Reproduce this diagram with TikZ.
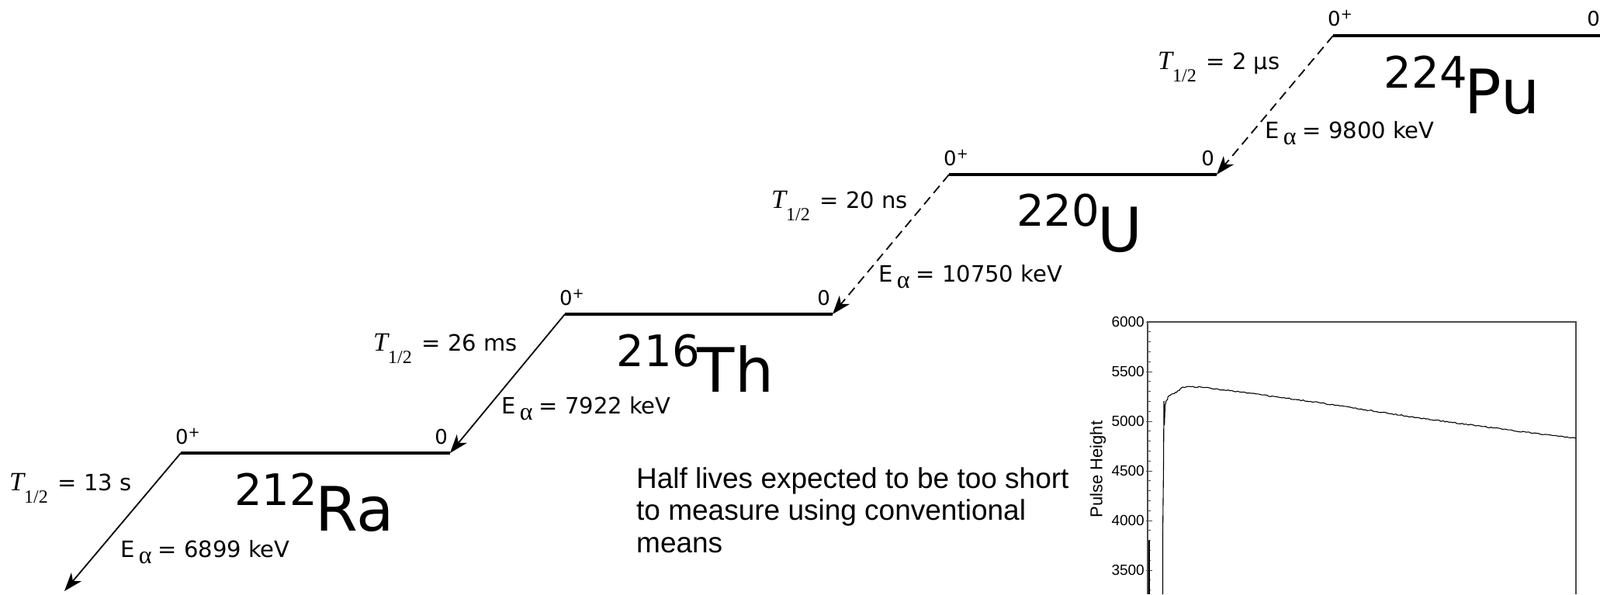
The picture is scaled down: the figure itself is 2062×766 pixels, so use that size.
\documentclass[tikz,border=0pt]{standalone}
\usepackage{fontspec}
\setmainfont{DejaVu Sans}
\newfontfamily\serif{Liberation Serif}
\newfontfamily\arial{Liberation Sans}
\usetikzlibrary{arrows.meta,decorations.pathmorphing}
\newcommand{\nuc}[2]{\fontsize{56}{56}\selectfont\raisebox{33pt}{#1}\kern-3pt\fontsize{79}{79}\selectfont #2}
\newcommand{\zp}{0\raisebox{9pt}{\fontsize{18}{18}\selectfont +}}
\newcommand{\thalf}[1]{{\serif\itshape\fontsize{34}{34}\selectfont T}\raisebox{-16pt}{\serif\fontsize{24}{24}\selectfont 1/2}\hspace{13pt}= #1}
\newcommand{\ealpha}[1]{E\raisebox{-8pt}{\serif\fontsize{32}{32}\selectfont\,α}\hspace{8pt}= #1}
\begin{document}
\begin{tikzpicture}[x=1pt,y=-1pt,
  level/.style={line width=3.6pt},
  decay/.style={line width=1.8pt,-{Stealth[length=24pt,width=17pt,inset=7pt]}},
  fast/.style={decay,dash pattern=on 12pt off 7pt},
  spin/.style={inner sep=0,font=\fontsize{26}{26}\selectfont},
  lab/.style={inner sep=0,anchor=base west,font=\fontsize{29}{29}\selectfont},
  nucl/.style={inner sep=0,anchor=base},
  frame/.style={line width=1.4pt,black!70},
  trace/.style={line width=1.1pt,black},
  tick/.style={line width=1pt,black!70},
  ticklab/.style={inner sep=0,anchor=east,font=\arial\fontsize{19}{19}\selectfont}]
\useasboundingbox (0,0) rectangle (2062,766);
% level end points
\coordinate (RaL) at (233,584);  \coordinate (RaR) at (580,584);
\coordinate (ThL) at (728,405);  \coordinate (ThR) at (1073,405);
\coordinate (UL)  at (1223,225); \coordinate (UR)  at (1568,225);
\coordinate (PuL) at (1718,46);  \coordinate (PuR) at (2065,46);
\coordinate (RaOut) at (83,762);
% levels
\draw[level] (RaL) -- (RaR);
\draw[level] (ThL) -- (ThR);
\draw[level] (UL) -- (UR);
\draw[level] (PuL) -- (PuR);
% decays
\draw[decay] (RaL) -- (RaOut);
\draw[decay] (ThL) -- (RaR);
\draw[fast] (UL) -- (ThR);
\draw[fast] (PuL) -- (UR);
% spins
\node[spin,anchor=base west] (RaS1) at (226,572) {\zp};
\node[spin,anchor=base east] (RaS2) at (577,572) {0};
\node[spin,anchor=base west] (ThS1) at (721,393) {\zp};
\node[spin,anchor=base east] (ThS2) at (1070,393) {0};
\node[spin,anchor=base west] (US1) at (1216,213) {\zp};
\node[spin,anchor=base east] (US2) at (1565,213) {0};
\node[spin,anchor=base west] (PuS1) at (1711,33) {\zp};
\node[spin,anchor=base east] (PuS2) at (2062,33) {0};
% nuclei
\node[nucl] (Ra) at (405,684) {\nuc{212}{Ra}};
\node[nucl] (Th) at (896,505) {\nuc{216}{Th}};
\node[nucl] (U)  at (1391,324) {\nuc{220}{U}};
\node[nucl] (Pu) at (1884,146) {\nuc{224}{Pu}};
% half lives
\node[lab] (RaT) at (12,632) {\thalf{13 s}};
\node[lab] (ThT) at (481,452) {\thalf{26 ms}};
\node[lab] (UT)  at (994,268) {\thalf{20 ns}};
\node[lab] (PuT) at (1492,89) {\thalf{2 μs}};
% alpha energies
\node[lab] (RaE) at (155,718) {\ealpha{6899 keV}};
\node[lab] (ThE) at (646,533) {\ealpha{7922 keV}};
\node[lab] (UE)  at (1132,363) {\ealpha{10750 keV}};
\node[lab] (PuE) at (1630,178) {\ealpha{9800 keV}};
% note (base anchor = baseline of the last line)
\node[inner sep=0,anchor=base west,align=left,font=\arial\fontsize{37}{41.5}\selectfont] (note) at (820,712)
  {Half lives expected to be too short\\to measure using conventional\\means};
% plot
\draw[frame] (1479,766) -- (1479,415) -- (2031,415) -- (2031,766);
\foreach \k in {0,...,27} {\draw[tick] (1479,415+12.8*\k) -- ++(3.5,0);}
\foreach \v [count=\i from 0] in {6000,5500,5000,4500,4000,3500} {
  \draw[tick] (1477,415+64*\i) -- ++(8,0);
  \node[ticklab] (t\v) at (1475,415+64*\i) {\v};
}
\draw[line width=1.6pt] (1481,697) -- (1481,766);
\node[inner sep=0,rotate=90,font=\arial\fontsize{22}{22}\selectfont] (ylab) at (1415,605) {Pulse Height};
\draw[trace] (1498.5,766) -- (1498.5,690) -- (1499.5,600) -- (1500,517) -- (1500.6,548) -- (1501.5,522);
\draw[trace,decorate,decoration={random steps,segment length=2.5pt,amplitude=0.7pt}]
  (1501.5,522) -- (1505,512) -- (1510,508) -- (1516,506) -- (1520,503) -- (1524,499) -- (1535,498.5) -- (1548,499)
  -- (1600,505.5) -- (1700,519) -- (1830,539) -- (1950,555) -- (2031,565);
\end{tikzpicture}
\end{document}
